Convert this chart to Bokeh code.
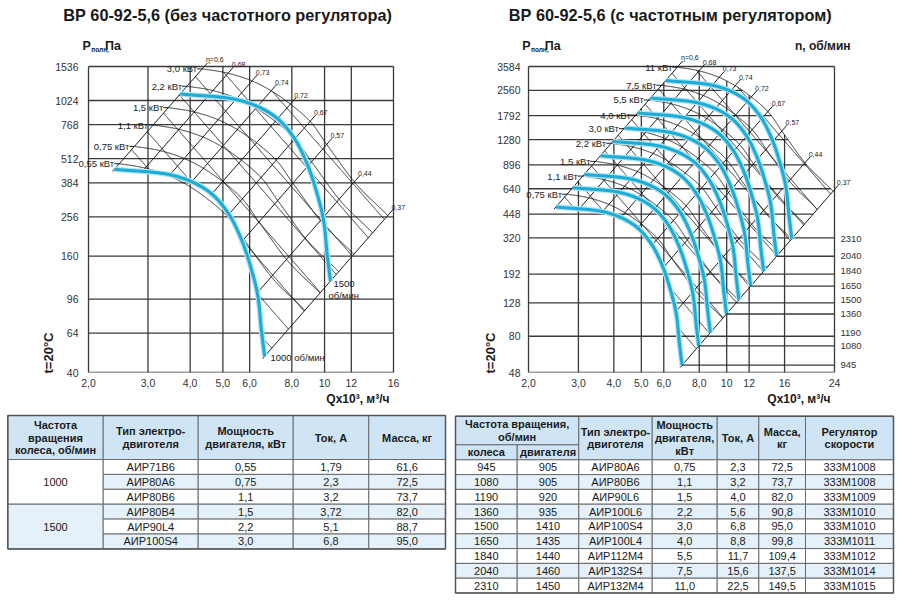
import numpy as np
from bokeh.plotting import figure
from bokeh.models import Range1d, FixedTicker, Label, Title
from bokeh.layouts import column, row
from bokeh.embed import file_html
from bokeh.resources import INLINE
from bokeh.core.properties import value

FONT = "Liberation Sans"
INK = "#1e1e1e"
GRIDC = "#3a3a3a"
CYAN = "#1badd6"
HALO = "#b4e3f3"
TXT = "#1a1a1a"
HEAD_BG = "#cfe5f5"
STRIPE = "#e4f1fa"
BORDER = "#6a6a6a"

# ------------------------------------------------------------------ data
# fan curve (1500 об/мин): Q in 10^3 m3/h, P in Pa
BASE_Q = [3.74, 5.64, 7.07, 8.10, 8.88, 9.51, 9.94, 10.18, 10.41]
BASE_P = [1108, 1023, 855, 660, 481, 336, 244, 164, 119]

# efficiency lines: value, label and the flow where each crosses the curve above
ETA_VALUES = [0.60, 0.68, 0.73, 0.74, 0.72, 0.67, 0.57, 0.44, 0.37]
ETA_LABELS = ["η=0,6", "0,68", "0,73", "0,74", "0,72", "0,67", "0,57", "0,44", "0,37"]
ETA_Q = [3.74, 4.52, 5.46, 6.33, 7.26, 8.16, 8.93, 9.90, 10.41]

L_TITLE = "ВР 60-92-5,6 (без частотного регулятора)"
L_XTICKS = [2, 3, 4, 5, 6, 8, 10, 12, 16]
L_XLABELS = ["2,0", "3,0", "4,0", "5,0", "6,0", "8,0", "10", "12", "16"]
L_YTICKS = [40, 64, 96, 160, 256, 384, 512, 768, 1024, 1536]
L_POWER_KW = [3.0, 2.2, 1.5, 1.1, 0.75, 0.55]
L_POWER_LABELS = ["3,0 кВт", "2,2 кВт", "1,5 кВт", "1,1 кВт", "0,75 кВт", "0,55 кВт"]
L_SPEED_END_P = [48.5, 119]          # 1000 and 1500 об/мин curves, pressure at curve end
L_DIAG_P10 = [26, 41, 63, 98, 151, 234, 362, 560]   # falling grid lines, pressure at Q=10

R_TITLE = "ВР 60-92-5,6 (с частотным регулятором)"
R_XTICKS = [2, 3, 4, 5, 6, 8, 10, 12, 16, 24]
R_XLABELS = ["2,0", "3,0", "4,0", "5,0", "6,0", "8,0", "10", "12", "16", "24"]
R_YTICKS = [48, 80, 128, 192, 320, 448, 640, 896, 1280, 1792, 2560, 3584]
R_POWER_KW = [11, 7.5, 5.5, 4.0, 3.0, 2.2, 1.5, 1.1, 0.75]
R_POWER_LABELS = ["11 кВт", "7,5 кВт", "5,5 кВт", "4,0 кВт", "3,0 кВт", "2,2 кВт",
                  "1,5 кВт", "1,1 кВт", "0,75 кВт"]
R_SPEEDS = [945, 1080, 1190, 1360, 1500, 1650, 1840, 2040, 2310]
R_SPEED_END_P = [53.2, 69.8, 84.2, 109.5, 134, 162, 200, 247, 316]
R_DIAG_P10 = [41, 63, 98, 151, 234, 362, 560, 866, 1340, 2075, 3210]

# tables
LT_HEAD = [["Частота", "вращения", "колеса, об/мин"], ["Тип электро-", "двиготеля"],
           ["Мощность", "двигателя, кВт"], ["Ток, А"], ["Масса, кг"]]
LT_FREQ = ["1000", "1500"]
LT_MOTOR = ["АИР71В6", "АИР80А6", "АИР80В6", "АИР80В4", "АИР90L4", "АИР100S4"]
LT_POWER = ["0,55", "0,75", "1,1", "1,5", "2,2", "3,0"]
LT_CURRENT = ["1,79", "2,3", "3,2", "3,72", "5,1", "6,8"]
LT_MASS = ["61,6", "72,5", "73,7", "82,0", "88,7", "95,0"]

RT_HEAD_GROUP = ["Частота вращения,", "об/мин"]
RT_HEAD_SUB = ["колеса", "двигателя"]
RT_HEAD = [["Тип электро-", "двиготеля"], ["Мощность", "двигателя,", "кВт"], ["Ток, А"],
           ["Масса,", "кг"], ["Регулятор", "скорости"]]
RT_WHEEL = ["945", "1080", "1190", "1360", "1500", "1650", "1840", "2040", "2310"]
RT_MOTOR_N = ["905", "905", "920", "935", "1410", "1435", "1440", "1460", "1450"]
RT_MOTOR = ["АИР80А6", "АИР80В6", "АИР90L6", "АИР100L6", "АИР100S4", "АИР100L4",
            "АИР112М4", "АИР132S4", "АИР132М4"]
RT_POWER = ["0,75", "1,1", "1,5", "2,2", "3,0", "4,0", "5,5", "7,5", "11,0"]
RT_CURRENT = ["2,3", "3,2", "4,0", "5,6", "6,8", "8,8", "11,7", "15,6", "22,5"]
RT_MASS = ["72,5", "73,7", "82,0", "90,8", "95,0", "99,8", "109,4", "137,5", "149,5"]
RT_REG = ["333М1008", "333М1008", "333М1009", "333М1010", "333М1010", "333М1011",
          "333М1012", "333М1014", "333М1015"]


# ------------------------------------------------------------------ geometry helpers
def hermite(xs, ys, xq):
    xs = np.asarray(xs, float)
    ys = np.asarray(ys, float)
    d = np.diff(ys) / np.diff(xs)
    m = np.empty_like(ys)
    m[0], m[-1] = d[0], d[-1]
    m[1:-1] = 0.5 * (d[:-1] + d[1:])
    i = np.clip(np.searchsorted(xs, xq) - 1, 0, len(xs) - 2)
    h = xs[i + 1] - xs[i]
    t = (xq - xs[i]) / h
    h00 = 2 * t**3 - 3 * t**2 + 1
    h10 = t**3 - 2 * t**2 + t
    h01 = -2 * t**3 + 3 * t**2
    h11 = t**3 - t**2
    return h00 * ys[i] + h10 * h * m[i] + h01 * ys[i + 1] + h11 * h * m[i + 1]


# log2 coordinates: u = log2 Q, v = log2 P, a = v - 2u (constant along efficiency lines)
_bu = np.log2(BASE_Q)
_bv = np.log2(BASE_P)
_ba = _bv - 2 * _bu
_o = np.argsort(_ba)
A = np.linspace(_ba.min(), _ba.max(), 1600)
UB = hermite(_ba[_o], _bu[_o], A)
VB = A + 2 * UB
ETA_A = np.interp(np.log2(ETA_Q), UB[::-1], A[::-1])
_eo = np.argsort(ETA_A)
ETA_FN = hermite(ETA_A[_eo], np.asarray(ETA_VALUES)[_eo], A)

# chart boxes in page pixels; the frame runs from fl / ft to the figure's right edge
W, HC, HT = 450, 410, 190
L_FR = dict(q0=2, q1=16, p0=40, p1=1536, bx0=88, bx1=393, by0=372, by1=66, ox=0,
            fl=70, ft=25, ylab_right=78.5, title_x=62.7)
R_FR = dict(q0=2, q1=24, p0=48, p1=3584, bx0=528, bx1=834, by0=372, by1=66, ox=450,
            fl=510, ft=25, ylab_right=519.5, title_x=508.3)
for _F in (L_FR, R_FR):
    _F["sx"] = (_F["bx1"] - _F["bx0"]) / np.log2(_F["q1"] / _F["q0"])
    _F["sy"] = (_F["by0"] - _F["by1"]) / np.log2(_F["p1"] / _F["p0"])


def to_data(F, px, py):
    return (F["q0"] * 2 ** ((px - F["bx0"]) / F["sx"]),
            F["p0"] * 2 ** ((F["by0"] - py) / F["sy"]))


def lab(p, x, y, text, size, bold=False, align="left", baseline="middle", color=TXT):
    p.add_layout(Label(x=x, y=y, text=text, text_font=FONT, text_font_size=size,
                       text_font_style="bold" if bold else "normal", text_color=color,
                       text_align=align, text_baseline=baseline))


def make_chart(F, title, xticks, xlabels, yticks, power_kw, power_labels, speed_end_p,
               diag_p10, full_grid):
    xs0, ys1 = to_data(F, F["fl"], F["ft"])
    xs1, _ = to_data(F, F["ox"] + W, 0)
    p = figure(width=W, height=HC, x_axis_type="log", y_axis_type="log",
               x_range=Range1d(xs0, xs1), y_range=Range1d(F["p0"], ys1),
               output_backend="svg", toolbar_location=None,
               min_border_left=F["fl"] - F["ox"], min_border_top=F["ft"], min_border_right=0,
               min_border_bottom=HC - F["by0"])
    p.outline_line_color = None
    p.grid.visible = False
    p.xaxis.ticker = FixedTicker(ticks=xticks)
    p.xaxis.major_label_overrides = {t: s for t, s in zip(xticks, xlabels)}
    p.yaxis.ticker = FixedTicker(ticks=yticks)
    p.yaxis.major_label_overrides = {t: str(t) for t in yticks}
    for ax in (p.xaxis, p.yaxis):
        ax.major_tick_line_color = None
        ax.minor_tick_line_color = None
        ax.major_tick_out = 0
        ax.major_tick_in = 0
        ax.minor_tick_out = 0
        ax.axis_line_color = None
        ax.major_label_text_font = FONT
        ax.major_label_text_font_size = "10.5px"
        ax.major_label_text_color = "#333333"
    p.xaxis.major_label_standoff = 6
    p.yaxis.major_label_standoff = int(round(F["fl"] - F["ylab_right"]))

    p.add_layout(Title(text=title, align="left", offset=F["title_x"] - F["fl"],
                       vertical_align="bottom", standoff=4, text_font=FONT,
                       text_font_size="16.3px", text_font_style="bold", text_color=TXT), "above")

    sx, sy = F["sx"], F["sy"]
    l_sp = 0.5 * np.log2(np.asarray(speed_end_p, float) / BASE_P[-1])
    l_low = l_sp.min()
    low_u, low_v = UB + l_low, VB + 2 * l_low
    arcs = []
    for n_kw in power_kw:
        L = np.log2(3600.0 * n_kw * ETA_FN)
        u = (L - A) / 3.0
        arcs.append((u, A + 2 * u))
    top_u, top_v = arcs[int(np.argmax(power_kw))]

    # grid (box lines are the outermost grid lines)
    gx0, gy0, gx1, gy1 = [], [], [], []
    for q in xticks:
        u0 = np.log2(q)
        v_end = np.log2(F["p1"])
        if not full_grid:
            if low_u[-1] <= u0 <= top_u[-1]:
                v_end = A[-1] + 2 * u0
            elif top_u[-1] < u0 <= top_u[0]:
                v_end = np.interp(u0, top_u[::-1], top_v[::-1])
        gx0.append(q); gy0.append(F["p0"]); gx1.append(q); gy1.append(2 ** v_end)
    for pv in yticks:
        v0 = np.log2(pv)
        u_end = np.log2(F["q1"])
        if not full_grid:
            near = min(abs(np.log2(pv / pe)) for pe in speed_end_p) < 0.085
            if not near and top_v[0] <= v0 <= top_v[-1]:
                u_end = np.interp(v0, top_v, top_u)
            elif not near and low_v[0] <= v0 < top_v[0]:
                u_end = (v0 - A[0]) / 2
        gx0.append(F["q0"]); gy0.append(pv); gx1.append(2 ** u_end); gy1.append(pv)
    p.segment(gx0, gy0, gx1, gy1, line_color=GRIDC, line_width=1.3)

    # efficiency lines
    ext_t = 8 / np.hypot(sx, 2 * sy)
    ext_b = 3 / np.hypot(sx, 2 * sy)
    exs, eys = [], []
    for a, txt in zip(ETA_A, ETA_LABELS):
        u0 = np.interp(a, A, low_u) - ext_b
        u1 = np.interp(a, A, top_u) + ext_t
        uu = np.array([u0, u1])
        exs.append(2 ** uu)
        eys.append(2 ** (a + 2 * uu))
        lab(p, 2 ** (u1 - 1.5 / sx), 2 ** (a + 2 * u1), txt, "7px", baseline="bottom")
    p.multi_line(exs, eys, line_color=INK, line_width=1)

    # falling grid lines
    dxs, dys = [], []
    for p10 in diag_p10:
        b = np.log2(p10) + 2 * np.log2(10)
        uline = (b - A) / 4
        idx = np.flatnonzero((uline >= low_u) & (uline <= top_u))
        if len(idx) < 2:
            continue
        for run in np.split(idx, np.flatnonzero(np.diff(idx) > 1) + 1):
            if len(run) < 2:
                continue
            dxs.append(2 ** uline[run])
            dys.append(2 ** ((b + A[run]) / 2))
    p.multi_line(dxs, dys, line_color=INK, line_width=1)

    # power curves
    p.multi_line([2 ** u for u, v in arcs], [2 ** v for u, v in arcs], line_color=INK, line_width=1)
    for (u, v), txt in zip(arcs, power_labels):
        us, vs = u[-1], v[-1]
        p.line([2 ** (us - 5 / sx), 2 ** us], [2 ** vs, 2 ** vs], line_color=INK, line_width=1)
        lab(p, 2 ** (us - 5 / sx), 2 ** vs, txt, "9.5px", align="right")

    # fan curves
    cxs = [2 ** (UB + l) for l in l_sp]
    cys = [2 ** (VB + 2 * l) for l in l_sp]
    p.multi_line(cxs, cys, line_color=HALO, line_width=5.5)
    p.multi_line(cxs, cys, line_color=CYAN, line_width=3.1)
    ends = [(2 ** (UB[0] + l), 2 ** (VB[0] + 2 * l)) for l in l_sp]

    # axis captions
    p.add_layout(Title(text="t=20°C", align="left", offset=-1, standoff=-6,
                       text_font=FONT, text_font_size="13px", text_font_style="bold",
                       text_color=TXT), "left")
    p.add_layout(Title(text="Qx10³, м³/ч", align="right", offset=F["ox"] + W - F["bx1"] + 4,
                       standoff=0, text_font=FONT, text_font_size="12px",
                       text_font_style="bold", text_color=TXT), "below")
    return p, ends


def p_label(p, F, x0, y0):
    lab(p, *to_data(F, x0, y0), "Р", "12.5px", bold=True)
    lab(p, *to_data(F, x0 + 8.8, y0 + 4), "полн,", "6.5px", bold=True)
    lab(p, *to_data(F, x0 + 22.5, y0), "Па", "12.5px", bold=True)


# ------------------------------------------------------------------ left chart
lc, l_ends = make_chart(L_FR, L_TITLE, L_XTICKS, L_XLABELS, L_YTICKS, L_POWER_KW,
                        L_POWER_LABELS, L_SPEED_END_P, L_DIAG_P10, True)
p_label(lc, L_FR, 82, 45)
lab(lc, *to_data(L_FR, 333, 283.5), "1500", "9.5px")
lab(lc, *to_data(L_FR, 328, 294.5), "об/мин", "9.5px")
lab(lc, *to_data(L_FR, 270, 357), "1000 об/мин", "9.5px")

# ------------------------------------------------------------------ right chart
rc, r_ends = make_chart(R_FR, R_TITLE, R_XTICKS, R_XLABELS, R_YTICKS, R_POWER_KW,
                        R_POWER_LABELS, R_SPEED_END_P, R_DIAG_P10, False)
sx0, sy0, sx1, sy1 = [], [], [], []
for (qe, pe) in r_ends:
    if min(abs(np.log2(g / pe)) for g in R_YTICKS) >= 0.085:
        sx0.append(qe); sy0.append(pe); sx1.append(R_FR["q1"]); sy1.append(pe)
rc.segment(sx0, sy0, sx1, sy1, line_color=GRIDC, line_width=1.3)
lab_q = to_data(R_FR, 840, 0)[0]
for n, pe in zip(R_SPEEDS, R_SPEED_END_P):
    lab(rc, lab_q, pe, str(n), "9.5px", color="#333333")
p_label(rc, R_FR, 521.7, 45)
lab(rc, *to_data(R_FR, 850, 45), "n, об/мин", "12px", bold=True, align="right")


# ------------------------------------------------------------------ tables
def table_fig():
    t = figure(width=W, height=HT, x_range=Range1d(0, W), y_range=Range1d(HT, 0),
               output_backend="svg", toolbar_location=None,
               x_axis_type=None, y_axis_type=None, min_border=0)
    t.outline_line_color = None
    return t


def put_text(t, xs, ys, texts, bold=False, size="11px"):
    t.text(x=xs, y=ys, text=texts, text_font=value(FONT), text_font_size=size,
           text_font_style="bold" if bold else "normal", text_color=TXT,
           text_align="center", text_baseline="middle")


def header_lines(t, x, yc, lines, step=12.8):
    n = len(lines)
    ys = [yc + (i - (n - 1) / 2) * step for i in range(n)]
    put_text(t, [x] * n, ys, lines, bold=True)


# left table
lt = table_fig()
LE = [7.3, 102.7, 197.7, 292.7, 368.3, 445]
LTOP, LHB, LRH = 5, 49, 14.9
ql, qr, qt, qb, qf = [], [], [], [], []
for c in range(5):
    ql.append(LE[c]); qr.append(LE[c + 1]); qt.append(LTOP); qb.append(LHB); qf.append(HEAD_BG)
for g in range(len(LT_FREQ)):
    ql.append(LE[0]); qr.append(LE[1]); qt.append(LHB + 3 * g * LRH)
    qb.append(LHB + 3 * (g + 1) * LRH); qf.append("white" if g == 0 else STRIPE)
for r in range(len(LT_MOTOR)):
    for c in range(1, 5):
        ql.append(LE[c]); qr.append(LE[c + 1]); qt.append(LHB + r * LRH)
        qb.append(LHB + (r + 1) * LRH); qf.append(STRIPE if r % 2 == 1 else "white")
lt.quad(left=ql, right=qr, top=qt, bottom=qb, fill_color=qf, line_color=BORDER, line_width=1)
lt.quad(left=[LE[0]], right=[LE[-1]], top=[LTOP], bottom=[LHB + 6 * LRH], fill_color=None,
        line_color="#555555", line_width=1.5)
for c in range(5):
    header_lines(lt, (LE[c] + LE[c + 1]) / 2, (LTOP + LHB) / 2, LT_HEAD[c])
put_text(lt, [(LE[0] + LE[1]) / 2] * 2, [LHB + 1.5 * LRH, LHB + 4.5 * LRH], LT_FREQ)
for c, col in enumerate([LT_MOTOR, LT_POWER, LT_CURRENT, LT_MASS], start=1):
    put_text(lt, [(LE[c] + LE[c + 1]) / 2] * len(col),
             [LHB + (r + 0.5) * LRH for r in range(len(col))], col)

# right table
rt = table_fig()
RE = [5, 66.7, 128.3, 201.7, 266.7, 308.3, 355, 443]
RTOP, RSPL, RHB, RRH = 5.7, 34.3, 49.3, 14.8
ql, qr, qt, qb, qf = [RE[0]], [RE[2]], [RTOP], [RSPL], [HEAD_BG]
for c in range(2):
    ql.append(RE[c]); qr.append(RE[c + 1]); qt.append(RSPL); qb.append(RHB); qf.append(HEAD_BG)
for c in range(2, 7):
    ql.append(RE[c]); qr.append(RE[c + 1]); qt.append(RTOP); qb.append(RHB); qf.append(HEAD_BG)
for r in range(len(RT_WHEEL)):
    for c in range(7):
        ql.append(RE[c]); qr.append(RE[c + 1]); qt.append(RHB + r * RRH)
        qb.append(RHB + (r + 1) * RRH); qf.append(STRIPE if r % 2 == 1 else "white")
rt.quad(left=ql, right=qr, top=qt, bottom=qb, fill_color=qf, line_color=BORDER, line_width=1)
rt.quad(left=[RE[0]], right=[RE[-1]], top=[RTOP], bottom=[RHB + 9 * RRH], fill_color=None,
        line_color="#555555", line_width=1.5)
header_lines(rt, (RE[0] + RE[2]) / 2, (RTOP + RSPL) / 2, RT_HEAD_GROUP)
for c in range(2):
    header_lines(rt, (RE[c] + RE[c + 1]) / 2, (RSPL + RHB) / 2, [RT_HEAD_SUB[c]])
for c in range(5):
    header_lines(rt, (RE[c + 2] + RE[c + 3]) / 2, (RTOP + RHB) / 2, RT_HEAD[c])
for c, col in enumerate([RT_WHEEL, RT_MOTOR_N, RT_MOTOR, RT_POWER, RT_CURRENT, RT_MASS, RT_REG]):
    put_text(rt, [(RE[c] + RE[c + 1]) / 2] * len(col),
             [RHB + (r + 0.5) * RRH for r in range(len(col))], col)

layout = column(row(lc, rc), row(lt, rt))
open("out.html", "w").write(file_html(layout, INLINE))
